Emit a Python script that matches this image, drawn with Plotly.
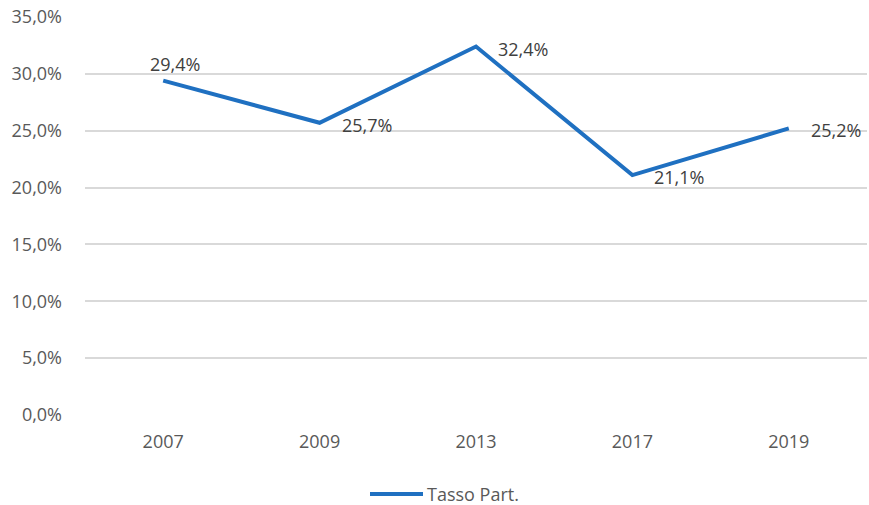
import plotly.graph_objects as go

# Tasso di partecipazione per anno
years = ["2007", "2009", "2013", "2017", "2019"]
rates = [29.4, 25.7, 32.4, 21.1, 25.2]
series_name = "Tasso Part."
y_ticks = [0, 5, 10, 15, 20, 25, 30, 35]

TEXT = "#595959"
LABEL = "#404040"
FONT = "Open Sans, Liberation Sans, Arial, sans-serif"
BLUE = "#1f70c1"
FS = 18

L, R, T, B = 85, 2, 17, 90
W, H = 869, 505
PW, PH = W - L - R, H - T - B


def pct_label(v):
    return f"{v:.1f}".replace(".", ",") + "%"


fig = go.Figure()
fig.add_trace(go.Scatter(
    x=years,
    y=[r / 100 for r in rates],
    mode="lines",
    name=series_name,
    line=dict(color=BLUE, width=4),
    hoverinfo="skip",
    showlegend=False,
))

# value labels: first above the point, the others to its right
for i, r in enumerate(rates):
    if i == 0:
        fig.add_annotation(x=i, y=r / 100, text=pct_label(r), showarrow=False,
                           xanchor="center", yanchor="middle", xshift=12, yshift=17,
                           font=dict(family=FONT, size=FS, color=LABEL))
    else:
        fig.add_annotation(x=i, y=r / 100, text=pct_label(r), showarrow=False,
                           xanchor="left", yanchor="middle", xshift=20, yshift=-2,
                           font=dict(family=FONT, size=FS, color=LABEL))

# legend below the plot: line swatch followed by the series name
def px_x(p):
    return (p - L) / PW


def px_y(p):
    return (H - B - p) / PH


fig.add_shape(type="line", xref="paper", yref="paper",
              x0=px_x(370), x1=px_x(423), y0=px_y(494), y1=px_y(494),
              line=dict(color=BLUE, width=4))
fig.add_annotation(xref="paper", yref="paper", x=px_x(425), y=px_y(494),
                   text=series_name, showarrow=False, xanchor="left", yanchor="middle",
                   font=dict(family=FONT, size=FS, color=TEXT))

fig.update_layout(
    width=W, height=H,
    margin=dict(l=L, r=R, t=T, b=B),
    paper_bgcolor="white", plot_bgcolor="white",
    separators=",.",
    font=dict(family=FONT, size=FS, color=TEXT),
    showlegend=False,
    xaxis=dict(
        type="category", range=[-0.5, 4.5],
        showgrid=False, showline=False, zeroline=False,
        ticks="", ticklabelstandoff=14,
        tickfont=dict(family=FONT, size=FS, color=TEXT),
    ),
    yaxis=dict(
        range=[0, 0.35], tickvals=[t / 100 for t in y_ticks], tickformat=".1%",
        showgrid=True, gridcolor="#d9d9d9", gridwidth=1.5,
        zeroline=False, showline=False, ticks="", ticklabelstandoff=22,
        tickfont=dict(family=FONT, size=FS, color=TEXT),
    ),
)

fig.write_html("out.html")
